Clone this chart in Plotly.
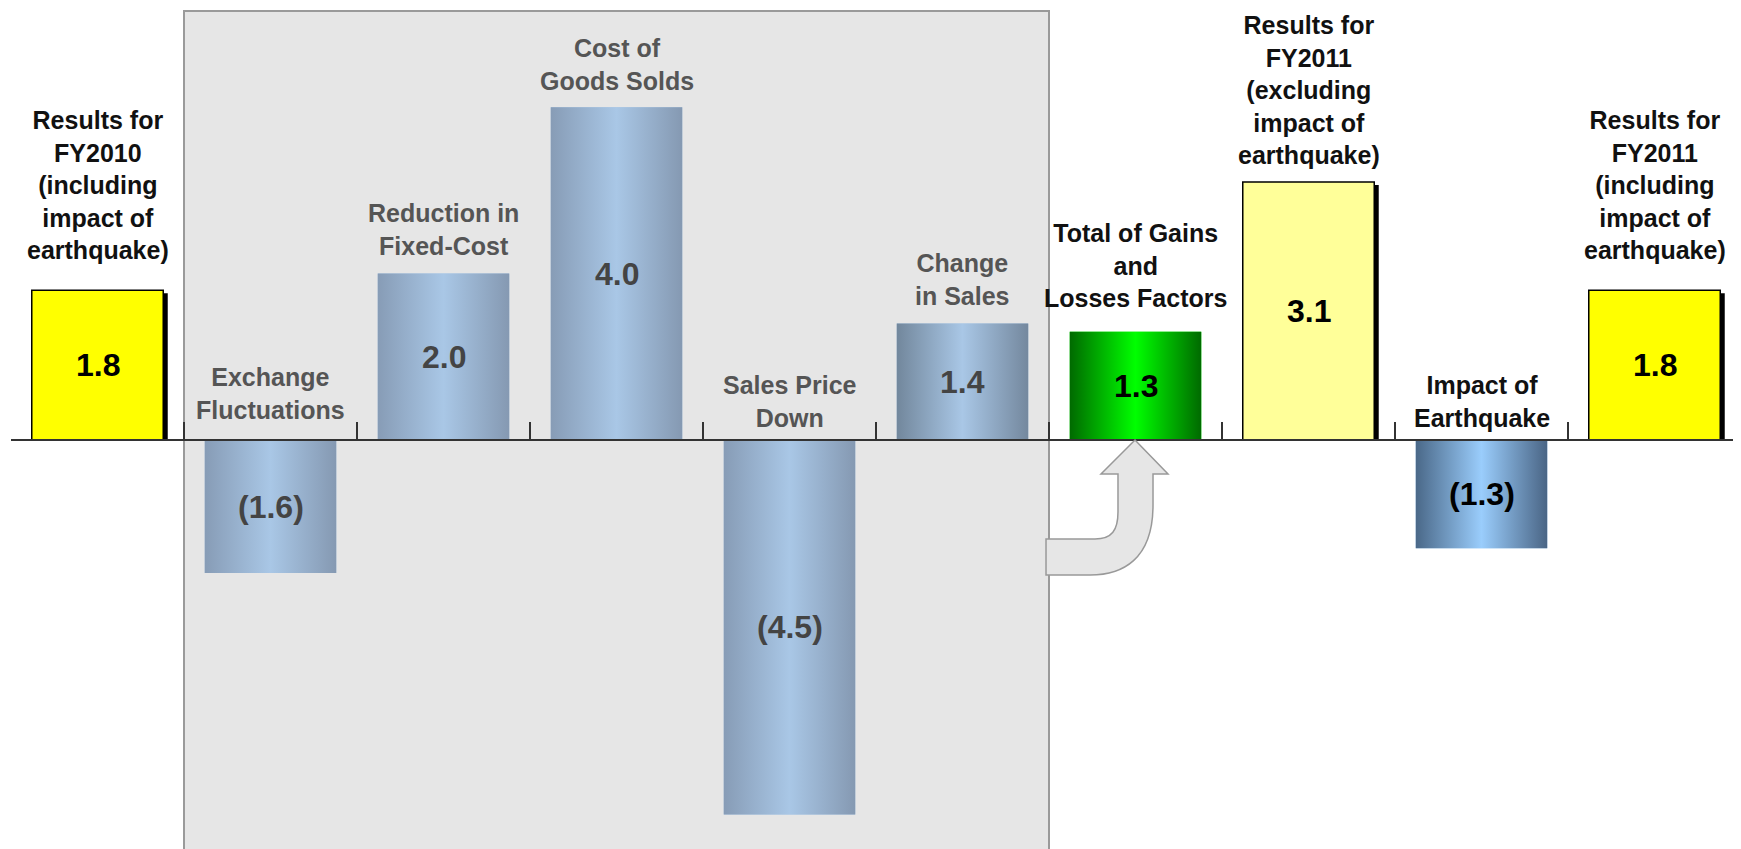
import plotly.graph_objects as go

# ---------------- data ----------------
categories = [
    "Results for<br>FY2010<br>(including<br>impact of<br>earthquake)",
    "Exchange<br>Fluctuations",
    "Reduction in<br>Fixed-Cost",
    "Cost of<br>Goods Solds",
    "Sales Price<br>Down",
    "Change<br>in Sales",
    "Total of Gains<br>and<br>Losses Factors",
    "Results for<br>FY2011<br>(excluding<br>impact of<br>earthquake)",
    "Impact of<br>Earthquake",
    "Results for<br>FY2011<br>(including<br>impact of<br>earthquake)",
]
values = [1.8, -1.6, 2.0, 4.0, -4.5, 1.4, 1.3, 3.1, -1.3, 1.8]
in_box = [False, True, True, True, True, True, False, False, False, False]

# bar styles: ("solid", color) or ("grad", edge_left, center, edge_right)
styles = [
    ("solid", "#ffff00"),
    ("grad", "#879cb6", "#a9c7e6", "#8599b2"),
    ("grad", "#879cb6", "#a9c7e6", "#8599b2"),
    ("grad", "#879cb6", "#a9c7e6", "#8599b2"),
    ("grad", "#879cb6", "#a9c7e6", "#8599b2"),
    ("grad", "#72879c", "#a9c7e6", "#74889e"),
    ("grad", "#006a00", "#00ff00", "#006a00"),
    ("solid", "#ffff99"),
    ("grad", "#4a6888", "#9acdfc", "#4a6585"),
    ("solid", "#ffff00"),
]
# vertical gap (px) between bar top / axis and the category label
label_gap = [24, 14, 12, 10, 6, 12, 18, 11, 6, 24]

PAGE_OFF = 8                    # default body margin of the html page
W, H = 1741 - PAGE_OFF, 849 - PAGE_OFF
X0_ABS, CAT_PX = 11, 173        # left end of axis (screen px), pixels per category
ZERO_ABS, PPU = 440, 83.2       # zero line (screen px), pixels per unit
BAR_W = 0.76

def X(px):
    return (px - X0_ABS) / CAT_PX - 0.5

def Y(py):
    return (ZERO_ABS - py) / PPU

x = list(range(len(values)))

fig = go.Figure()

# shadows for the yellow bars
shadow_idx = [i for i, s in enumerate(styles) if s[0] == "solid"]
fig.add_trace(go.Bar(
    x=[x[i] for i in shadow_idx],
    y=[values[i] - 3 / PPU for i in shadow_idx],
    width=BAR_W, offset=-BAR_W / 2 + 4.5 / CAT_PX,
    marker=dict(color="black", line=dict(width=0)),
    hoverinfo="skip", showlegend=False,
))

# base bars
base_colors = [s[1] if s[0] == "solid" else s[2] for s in styles]
line_w = [1.5 if s[0] == "solid" else 0 for s in styles]
fig.add_trace(go.Bar(
    x=x, y=values, width=BAR_W,
    marker=dict(color=base_colors, line=dict(color="black", width=line_w)),
    hoverinfo="skip", showlegend=False,
))

# gradient overlays
for i, (v, s) in enumerate(zip(values, styles)):
    if s[0] != "grad":
        continue
    xl, xr = x[i] - BAR_W / 2, x[i] + BAR_W / 2
    fig.add_trace(go.Scatter(
        x=[xl, xr, xr, xl, xl], y=[0, 0, v, v, 0],
        mode="lines", fill="toself", line=dict(width=0),
        fillgradient=dict(type="horizontal",
                          colorscale=[[0, s[1]], [0.5, s[2]], [1, s[3]]]),
        hoverinfo="skip", showlegend=False,
    ))

# background box and arrow
shapes = [
    dict(type="rect", xref="x", yref="y", x0=0.5, x1=5.5, y0=-6, y1=Y(11),
         fillcolor="#e6e6e6", line=dict(color="#9a9a9a", width=2), layer="below"),
]
pts = [("M", [(1135, 440)]), ("L", [(1168, 474)]), ("L", [(1153, 474)]),
       ("L", [(1153, 505)]), ("C", [(1153, 560), (1122, 575), (1090, 575)]),
       ("L", [(1046, 575)]), ("L", [(1046, 539)]), ("L", [(1095, 539)]),
       ("C", [(1112, 539), (1118, 530), (1118, 512)]), ("L", [(1118, 474)]),
       ("L", [(1101, 474)])]
path = " ".join(cmd + " " + " ".join(f"{X(px):.4f},{Y(py):.4f}" for px, py in p)
                for cmd, p in pts) + " Z"
shapes.append(dict(type="path", xref="x", yref="y", path=path,
                   fillcolor="#e6e6e6", line=dict(color="#999999", width=1.5)))

# annotations
annotations = []
for i, (cat, v) in enumerate(zip(categories, values)):
    col = "#555555" if in_box[i] else "#111111"
    annotations.append(dict(
        x=x[i], y=max(v, 0), xref="x", yref="y", text=cat, showarrow=False,
        yanchor="bottom", xanchor="center", yshift=label_gap[i],
        font=dict(family="Liberation Sans, Arial", size=25, color=col, weight="bold"),
    ))
    txt = f"{v:.1f}" if v >= 0 else f"({abs(v):.1f})"
    vcol = "#444444" if in_box[i] else "#000000"
    annotations.append(dict(
        x=x[i], y=v / 2, xref="x", yref="y", text=txt, showarrow=False,
        yanchor="middle", xanchor="center",
        font=dict(family="Liberation Sans, Arial", size=32, color=vcol, weight="bold"),
    ))

fig.update_layout(
    width=W, height=H, margin=dict(l=0, r=0, t=0, b=0),
    paper_bgcolor="white", plot_bgcolor="rgba(0,0,0,0)",
    barmode="overlay", showlegend=False,
    shapes=shapes, annotations=annotations,
    xaxis=dict(domain=[(X0_ABS - PAGE_OFF) / W, 1], range=[-0.5, len(values) - 0.5],
               anchor="free", position=1 - (ZERO_ABS - PAGE_OFF) / H,
               tickvals=[k - 0.5 for k in range(len(values) + 1)],
               showticklabels=False, ticks="inside", ticklen=17, tickwidth=2,
               tickcolor="#333333", showline=True, linecolor="#333333", linewidth=2,
               showgrid=False, zeroline=False, fixedrange=True),
    yaxis=dict(range=[Y(849), Y(PAGE_OFF)], visible=False, fixedrange=True),
)

fig.write_html("out.html")
